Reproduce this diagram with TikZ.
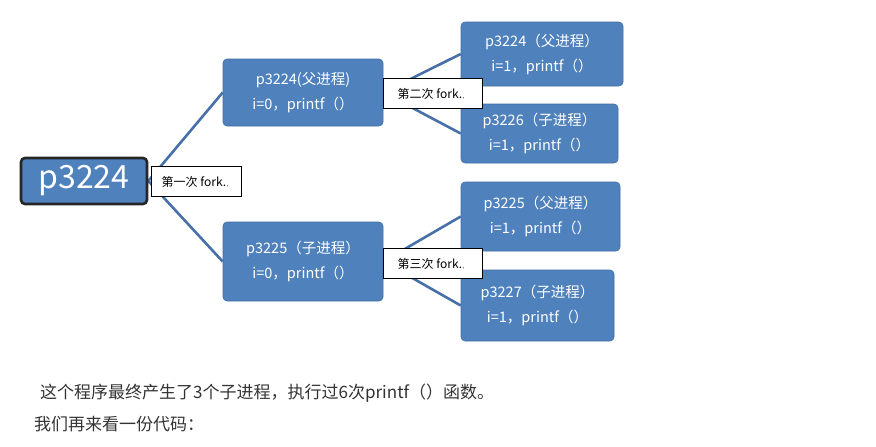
\documentclass[tikz,border=0pt]{standalone}
\usepackage{fontspec}
\setmainfont{Noto Sans CJK SC}
\usetikzlibrary{backgrounds}
\definecolor{boxfill}{RGB}{79,129,189}
\definecolor{linecol}{RGB}{72,112,168}
\definecolor{txtgray}{RGB}{51,51,51}
\tikzset{
  proc/.style={draw=boxfill!85!black, line width=0.6pt, fill=boxfill, rounded corners=4pt, text=white, align=center, font=\fontsize{14.5}{25}\selectfont, inner sep=0pt},
  rootbox/.style={draw=black!85, line width=2.6pt, fill=boxfill, rounded corners=4pt, text=white, font=\fontsize{32}{34}\selectfont, inner sep=0pt, minimum width=126pt, minimum height=46pt},
  forklabel/.style={draw=black, line width=0.7pt, fill=white, font=\fontsize{12}{14}\selectfont, inner sep=0pt, minimum width=99pt, minimum height=30pt},
  conn/.style={draw=linecol, line width=2.6pt},
  bodytext/.style={text=txtgray, font=\fontsize{17}{20}\selectfont, anchor=base west, inner sep=0pt}
}
\begin{document}
\begin{tikzpicture}[x=1pt,y=-1pt]
\useasboundingbox (0,0) rectangle (876,447);
% nodes
\node[rootbox] (root) at (84,181) {p3224};
\node[proc, minimum width=160pt, minimum height=67pt] (a) at (303,92.5) {p3224(父进程)\\i=0，printf（）};
\node[proc, minimum width=160pt, minimum height=79pt] (b) at (303,261.5) {p3225（子进程）\\i=0，printf（）};
\node[proc, minimum width=162pt, minimum height=64pt] (c) at (542,54) {p3224（父进程）\\i=1，printf（）};
\node[proc, minimum width=157pt, minimum height=59pt] (d) at (539.5,133.5) {p3226（子进程）\\i=1，printf（）};
\node[proc, minimum width=159pt, minimum height=69pt] (e) at (540.5,216.5) {p3225（父进程）\\i=1，printf（）};
\node[proc, minimum width=153pt, minimum height=71pt] (f) at (537.5,305.5) {p3227（子进程）\\i=1，printf（）};
% connectors behind the boxes
\begin{scope}[on background layer]
\path[conn] (root.east) -- (a.west);
\path[conn] (root.east) -- (b.west);
\path[conn] (a.east) -- (c.west);
\path[conn] (a.east) -- (d.west);
\path[conn] (b.east) -- (e.west);
\path[conn] (b.east) -- (f.west);
\end{scope}
% labels
\node[forklabel, minimum width=90pt] (l1) at (196.5,181.5) {第一次 fork.{\tiny ，}};
\node[forklabel] (l2) at (432.5,93.5) {第二次 fork.{\tiny ，}};
\node[forklabel] (l3) at (432.5,263.5) {第三次 fork.{\tiny ，}};
% text
\node[bodytext] (t1) at (40,398) {这个程序最终产生了3个子进程，执行过6次printf（）函数。};
\node[bodytext] (t2) at (34,430) {我们再来看一份代码：};
\end{tikzpicture}
\end{document}
